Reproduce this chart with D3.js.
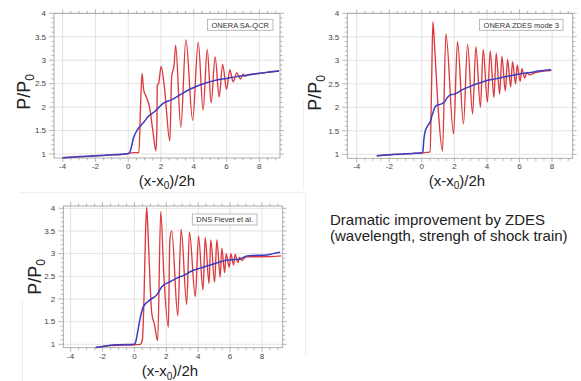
<!DOCTYPE html>
<html>
<head>
<meta charset="utf-8">
<script src="https://cdn.jsdelivr.net/npm/d3@7/dist/d3.min.js"></script>
<style>
  html, body { margin: 0; padding: 0; background: #fff; }
  svg { display: block; font-family: "Liberation Sans", Arial, Helvetica, sans-serif; }
</style>
</head>
<body>
<svg id="chart" width="581" height="381"></svg>
<script>
// ---------------- DATA ----------------
const xTicks = [-4, -2, 0, 2, 4, 6, 8];
const yTicks = [1, 1.5, 2, 2.5, 3, 3.5, 4];
const legendLabels = ["ONERA SA-QCR", "ONERA ZDES mode 3", "DNS Fievet et al."];
const noteLines = ["Dramatic improvement by ZDES", "(wavelength, strengh of shock train)"];

// Panel 1: ONERA SA-QCR  [x, P/P0]
const saqcrRed = [
  [-4.0,0.92],[-3.5,0.93],[-3.0,0.94],[-2.5,0.95],[-2.0,0.96],[-1.5,0.97],[-1.0,0.98],[-0.5,0.99],
  [0.0,1.01],[0.3,1.03],[0.65,1.03],[0.75,2.0],[0.84,2.72],[0.95,2.35],[1.1,2.22],[1.3,2.0],
  [1.5,1.5],[1.69,1.07],[1.75,1.6],[1.77,2.47],[1.85,2.5],[2.01,2.87],[2.2,2.45],[2.54,1.28],
  [2.65,2.65],[2.8,2.9],[2.89,3.32],[3.21,1.57],[3.52,3.44],[3.93,1.72],[4.27,3.38],[4.57,1.94],
  [4.82,3.23],[5.06,2.09],[5.30,3.07],[5.55,2.22],[5.76,2.91],[6.0,2.38],[6.2,2.80],[6.40,2.54],
  [6.62,2.73],[6.85,2.60],[7.0,2.70],[7.15,2.66],[7.3,2.69],[8.0,2.72],[9.2,2.77]
];
const saqcrBlue = [
  [-4.0,0.92],[-3.5,0.93],[-3.0,0.945],[-2.5,0.95],[-2.0,0.965],[-1.5,0.97],[-1.0,0.985],[-0.5,0.99],
  [0.0,1.01],[0.1,1.04],[0.2,1.16],[0.3,1.32],[0.5,1.48],[0.8,1.62],[1.0,1.7],[1.22,1.8],[1.6,1.9],
  [2.13,2.08],[2.6,2.15],[3.15,2.26],[3.76,2.38],[4.3,2.46],[4.78,2.52],[5.4,2.58],[6.0,2.61],
  [6.6,2.65],[7.22,2.68],[8.0,2.72],[8.6,2.75],[9.2,2.77]
];

// Panel 2: ONERA ZDES mode 3
const zdesRed = [
  [-2.77,0.97],[-2.0,0.99],[-1.0,1.01],[0.0,1.03],[0.3,1.04],[0.51,1.05],[0.6,2.5],[0.68,3.82],
  [0.8,3.2],[1.0,2.0],[1.27,1.07],[1.48,3.56],[1.95,1.43],[2.19,3.40],[2.56,1.65],[2.81,3.34],
  [3.12,1.86],[3.32,3.29],[3.60,2.0],[3.77,3.23],[4.03,2.11],[4.20,3.20],[4.43,2.21],[4.57,3.15],
  [4.78,2.28],[4.92,3.08],[5.13,2.35],[5.27,3.02],[5.46,2.43],[5.57,2.97],[5.76,2.50],[5.86,2.90],
  [6.04,2.55],[6.15,2.82],[6.32,2.62],[6.45,2.74],[6.6,2.69],[7.0,2.74],[7.5,2.77],[7.95,2.78]
];
const zdesBlue = [
  [-2.77,0.97],[-2.0,0.99],[-1.0,1.01],[-0.5,1.02],[0.0,1.03],[0.06,1.05],[0.12,1.3],[0.2,1.48],
  [0.35,1.6],[0.5,1.68],[0.65,1.85],[0.8,2.0],[0.95,2.05],[1.1,2.06],[1.4,2.12],[1.55,2.2],
  [1.72,2.26],[2.0,2.28],[2.46,2.37],[2.87,2.43],[3.48,2.51],[4.1,2.58],[4.6,2.61],[5.12,2.65],
  [5.6,2.68],[6.15,2.72],[6.7,2.74],[7.17,2.77],[7.95,2.80]
];

// Panel 3: DNS Fievet et al.
const dnsRed = [
  [-2.43,0.93],[-2.0,0.95],[-1.5,0.97],[-1.0,0.98],[0.0,0.99],[0.36,1.0],[0.5,1.1],[0.6,2.0],
  [0.7,3.5],[0.77,4.02],[0.85,3.5],[1.0,2.2],[1.09,1.68],[1.25,1.45],[1.46,1.08],[1.65,3.93],
  [1.85,2.5],[2.13,1.375],[2.22,3.3],[2.34,3.50],[2.72,1.63],[2.93,3.54],[3.28,1.88],[3.45,3.47],
  [3.82,2.05],[4.02,3.39],[4.30,2.2],[4.44,3.35],[4.68,2.34],[4.79,3.30],[5.03,2.37],[5.17,3.30],
  [5.38,2.48],[5.48,3.12],[5.66,2.58],[5.75,3.0],[5.95,2.7],[6.05,3.0],[6.22,2.75],[6.32,2.98],
  [6.5,2.8],[6.59,2.92],[6.75,2.85],[6.9,2.9],[7.0,2.93],[8.0,2.93],[9.2,2.95]
];
const dnsBlue = [
  [-2.43,0.93],[-2.0,0.95],[-1.5,0.98],[-1.0,0.99],[0.0,1.0],[0.08,1.05],[0.15,1.17],[0.36,1.57],
  [0.56,1.83],[0.98,1.98],[1.4,2.09],[1.72,2.27],[2.24,2.38],[2.66,2.46],[3.1,2.52],[3.49,2.6],
  [4.12,2.68],[4.5,2.72],[4.96,2.77],[5.4,2.82],[5.79,2.86],[6.3,2.87],[6.63,2.88],[7.05,2.95],
  [7.5,2.96],[8.3,2.97],[8.7,3.0],[9.14,3.03]
];

// ---------------- LAYOUT ----------------
const panels = [
  { red: saqcrRed, blue: saqcrBlue, legend: legendLabels[0],
    xd: [-4.53, 9.26], xr: [54, 280], yd: [0.915, 4.0], yr: [158, 13.3],
    legRight: 7, legTop: 6, yLab: [30, 92], xLab: [167, 185.5] },
  { red: zdesRed, blue: zdesBlue, legend: legendLabels[1],
    xd: [-4.58, 9.27], xr: [347.3, 572.7], yd: [0.915, 4.0], yr: [158.3, 13.3],
    legRight: 9.7, legTop: 6, yLab: [321, 93], xLab: [457, 185.5] },
  { red: dnsRed, blue: dnsBlue, legend: legendLabels[2],
    xd: [-4.46, 9.3], xr: [63.3, 282.7], yd: [0.925, 4.05], yr: [347.7, 206],
    legRight: 25.7, legTop: 8, yLab: [41, 277], xLab: [170, 376] }
];

const svg = d3.select("#chart");

// faint image edges
svg.append("g").attr("stroke", "#efefef").attr("stroke-width", 1)
  .selectAll("line").data([[303.5,100,303.5,190],[20,192.5,305,192.5],[305.5,192,305.5,355],[22.5,300,22.5,381]])
  .join("line").attr("x1", d=>d[0]).attr("y1", d=>d[1]).attr("x2", d=>d[2]).attr("y2", d=>d[3]);

panels.forEach(p => {
  const x = d3.scaleLinear().domain(p.xd).range(p.xr);
  const y = d3.scaleLinear().domain(p.yd).range(p.yr);
  const g = svg.append("g");
  const [x0, x1] = p.xr, [yb, yt] = p.yr;

  // grid
  g.append("g").selectAll("line").data(xTicks).join("line")
    .attr("x1", d => x(d)).attr("x2", d => x(d)).attr("y1", yt).attr("y2", yb)
    .attr("stroke", "#dcdcdc").attr("stroke-width", 0.8);
  g.append("g").selectAll("line").data(yTicks).join("line")
    .attr("x1", x0).attr("x2", x1).attr("y1", d => y(d)).attr("y2", d => y(d))
    .attr("stroke", "#dcdcdc").attr("stroke-width", 0.8);

  // minor / major ticks
  const yMinor = d3.range(1, 4.001, 0.1);
  const xMinor = d3.range(-4, 9.01, 0.5);
  const isMajY = d => Math.abs(d*2 - Math.round(d*2)) < 1e-6;
  const tickG = g.append("g").attr("stroke", "#9a9a9a").attr("stroke-width", 0.7);
  tickG.selectAll(".yl").data(yMinor).join("line")
    .attr("x1", d => x0 - (isMajY(d) ? 5 : 2.5)).attr("x2", x0)
    .attr("y1", d => y(d)).attr("y2", d => y(d));
  tickG.selectAll(".yr").data(yMinor).join("line")
    .attr("x1", x1).attr("x2", d => x1 + (isMajY(d) ? 4 : 2.5))
    .attr("y1", d => y(d)).attr("y2", d => y(d));
  tickG.selectAll(".xb").data(xMinor).join("line")
    .attr("x1", d => x(d)).attr("x2", d => x(d)).attr("y1", yb)
    .attr("y2", d => yb + (d % 2 === 0 ? 4 : 2.5));
  tickG.selectAll(".xt").data(xMinor).join("line")
    .attr("x1", d => x(d)).attr("x2", d => x(d)).attr("y1", yt)
    .attr("y2", d => yt - (d % 2 === 0 ? 4 : 2.5));

  // frame
  g.append("rect").attr("x", x0).attr("y", yt).attr("width", x1 - x0).attr("height", yb - yt)
    .attr("fill", "none").attr("stroke", "#9a9a9a").attr("stroke-width", 0.8);

  // tick labels
  g.append("g").selectAll("text").data(yTicks).join("text")
    .attr("x", x0 - 8).attr("y", d => y(d)).attr("dy", "0.35em")
    .attr("text-anchor", "end").attr("font-size", 8).attr("fill", "#444")
    .text(d => d3.format("~g")(d));
  g.append("g").selectAll("text").data(xTicks).join("text")
    .attr("x", d => x(d)).attr("y", yb + 11)
    .attr("text-anchor", "middle").attr("font-size", 8).attr("fill", "#444")
    .text(d => d);

  // curves
  const line = d3.line().x(d => x(d[0])).y(d => y(d[1])).curve(d3.curveMonotoneX);
  g.append("path").datum(p.red).attr("d", line)
    .attr("fill", "none").attr("stroke", "#dd3a3e").attr("stroke-width", 1.35)
    .attr("stroke-linejoin", "round");
  g.append("path").datum(p.blue).attr("d", line)
    .attr("fill", "none").attr("stroke", "#3b3bc4").attr("stroke-width", 1.5)
    .attr("stroke-linejoin", "round");

  // legend box
  const lg = g.append("g");
  const lt = lg.append("text").attr("font-size", 7.5).attr("fill", "#333").text(p.legend);
  const w = lt.node().getComputedTextLength();
  const bw = w + 8, bh = 11;
  const bx = x1 - p.legRight - bw, by = yt + p.legTop;
  lg.insert("rect", "text").attr("x", bx).attr("y", by).attr("width", bw).attr("height", bh)
    .attr("fill", "#fff").attr("stroke", "#aaa").attr("stroke-width", 0.8);
  lt.attr("x", bx + 4).attr("y", by + 8.3);

  // axis titles
  const yl = g.append("text").attr("transform", `translate(${p.yLab[0]},${p.yLab[1]}) rotate(-90)`)
    .attr("text-anchor", "middle").attr("font-size", 18).attr("fill", "#222");
  yl.append("tspan").text("P/P");
  yl.append("tspan").attr("font-size", 12).attr("dy", 4).text("0");

  const xl = g.append("text").attr("x", p.xLab[0]).attr("y", p.xLab[1])
    .attr("text-anchor", "middle").attr("font-size", 15).attr("fill", "#222");
  xl.append("tspan").text("(x-x");
  xl.append("tspan").attr("font-size", 10).attr("dy", 3.5).text("0");
  xl.append("tspan").attr("dy", -3.5).text(")/2h");
});

// note text
svg.append("g").selectAll("text").data(noteLines).join("text")
  .attr("x", 330).attr("y", (d, i) => 225 + i * 15.5)
  .attr("font-size", 15).attr("fill", "#222").text(d => d);
</script>
</body>
</html>
